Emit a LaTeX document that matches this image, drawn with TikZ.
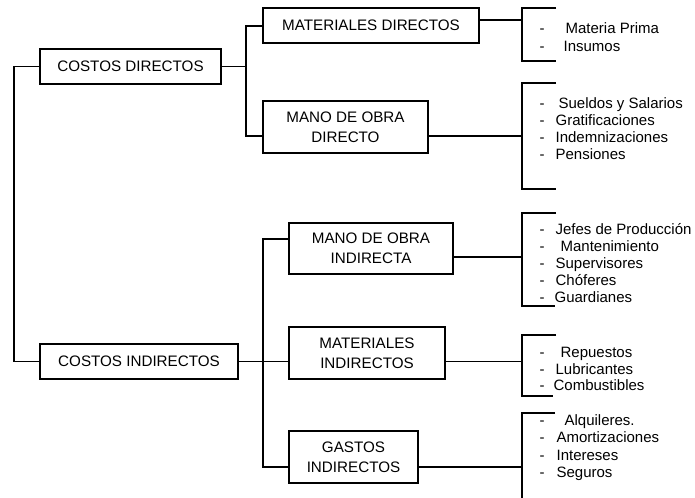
\documentclass[tikz,border=0pt]{standalone}
\usepackage{fontspec}
\setmainfont{Liberation Sans}
\begin{document}
\begin{tikzpicture}[x=1bp,y=-1bp,line width=1.2bp,
  box/.style={draw, rectangle, inner sep=0pt, align=center,
    font=\fontsize{15.2bp}{20bp}\selectfont},
  item/.style={anchor=west, inner sep=0pt, text height=10.6bp, text depth=0pt,
    font=\fontsize{15bp}{17bp}\selectfont},
  hyph/.style={inner sep=0pt, text height=10.6bp, text depth=0pt,
    font=\fontsize{15bp}{17bp}\selectfont}
]
\useasboundingbox (0,0) rectangle (695,498);

% boxes
\node[box, minimum width=181bp, minimum height=35bp] (cd) at (130.5,66.5) {COSTOS DIRECTOS};
\node[box, minimum width=198bp, minimum height=35bp] (ci) at (139,361.5) {COSTOS INDIRECTOS};
\node[box, minimum width=216bp, minimum height=35bp] (md) at (371,25.5) {MATERIALES DIRECTOS};
\node[box, minimum width=165bp, minimum height=52bp] (mod) at (345.5,127) {MANO DE OBRA\\DIRECTO};
\node[box, minimum width=164bp, minimum height=51bp] (moi) at (371,248.5) {MANO DE OBRA\\INDIRECTA};
\node[box, minimum width=156bp, minimum height=52bp] (mi) at (367,353) {MATERIALES\\INDIRECTOS};
\node[box, minimum width=129bp, minimum height=52bp] (gi) at (353.5,457) {GASTOS\\INDIRECTOS};

% left spine
\coordinate (s1t) at (14,66.5);
\coordinate (s1b) at (14,361.5);
\draw (cd.west) -- (s1t) -- (s1b) -- (ci.west);

% spine of direct costs
\coordinate (s2) at (246,66.5);
\coordinate (s2t) at (246,26);
\coordinate (s2b) at (246,136);
\draw (cd.east) -- (s2);
\draw (md.west |- s2t) -- (s2t) -- (s2b) -- (mod.west |- s2b);

% spine of indirect costs
\coordinate (s3t) at (263,239);
\coordinate (s3b) at (263,467);
\draw (moi.west |- s3t) -- (s3t) -- (s3b) -- (gi.west |- s3b);
\draw (ci.east) -- (mi.west |- ci.east);

% brackets
\coordinate (b1m) at (522,20);
\coordinate (b2m) at (522,136);
\coordinate (b3m) at (522,257);
\coordinate (b4m) at (522,361.5);
\coordinate (b5m) at (522,467);
\draw (md.east |- b1m) -- (b1m);
\draw (mod.east |- b2m) -- (b2m);
\draw (moi.east |- b3m) -- (b3m);
\draw (mi.east |- b4m) -- (b4m);
\draw (gi.east |- b5m) -- (b5m);

\draw (556,8) -- (522,8) -- (522,61) -- (556,61);
\draw (556,83) -- (522,83) -- (522,189) -- (556,189);
\draw (556,213) -- (522,213) -- (522,306) -- (555,306);
\draw (556,335) -- (522,335) -- (522,396) -- (553,396);
\draw (555,413) -- (522,413) -- (522,498);

% list items
\foreach \y/\x/\t [count=\i] in {
  28/565/Materia Prima, 46/563/Insumos,
  103/558/Sueldos y Salarios, 120/555/Gratificaciones, 137/555/Indemnizaciones, 154/555/Pensiones,
  229/555/Jefes de Producción, 246/560/Mantenimiento, 263/555/Supervisores, 280/555/Chóferes, 297/554/Guardianes,
  352/560/Repuestos, 369/555/Lubricantes, 385/553/Combustibles,
  420/564/Alquileres., 437/556/Amortizaciones, 455/556/Intereses, 472/556/Seguros}
{
  \node[hyph] (d\i) at (542,\y) {-};
  \node[item] (t\i) at (\x,\y) {\t};
}
\end{tikzpicture}
\end{document}
